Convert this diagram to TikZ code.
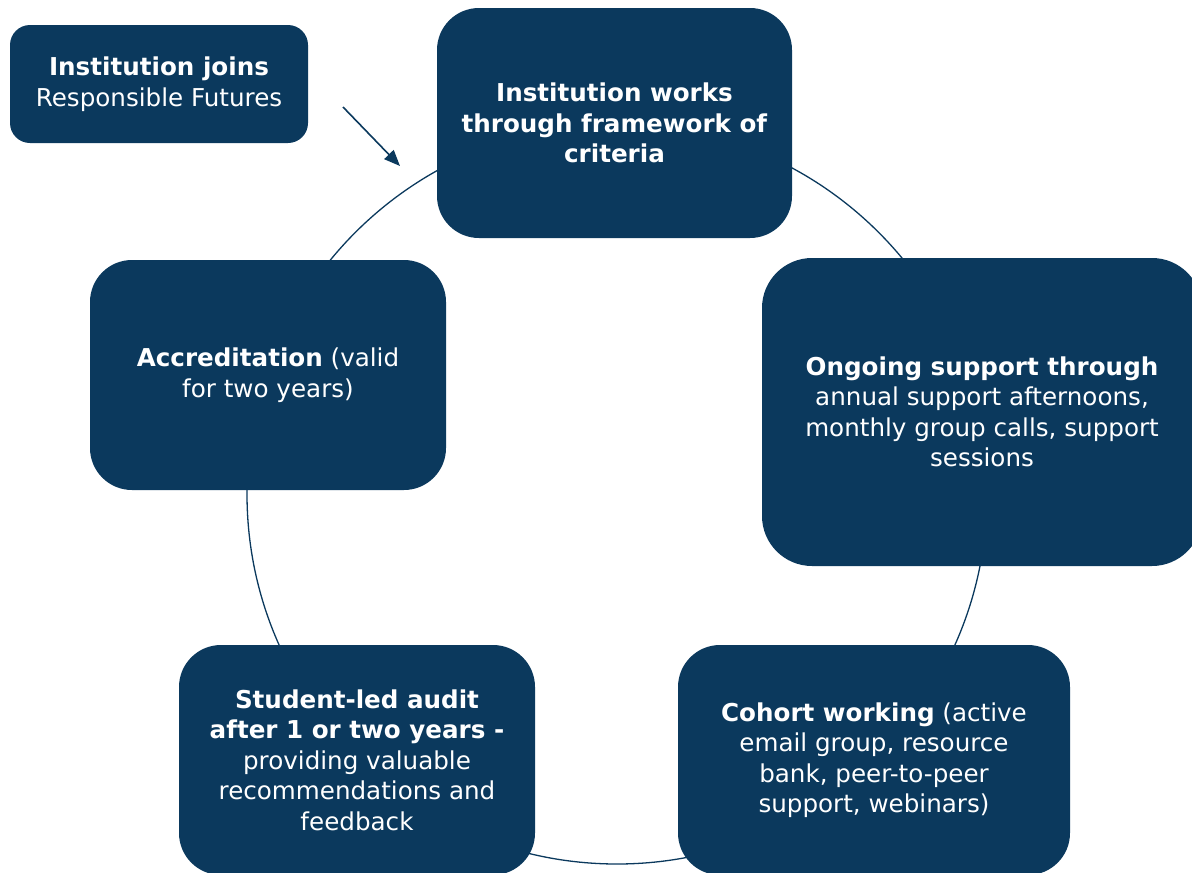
\documentclass[tikz,border=0pt]{standalone}
\usepackage{fontspec}
\setmainfont{DejaVu Sans}
\usetikzlibrary{arrows.meta}
\definecolor{navy}{RGB}{11,57,93}
\begin{document}
\begin{tikzpicture}[x=1pt,y=-1pt,
  box/.style={fill=navy,draw=none,rounded corners=42pt,text=white,align=center,
    font=\fontsize{24.6}{30.5}\selectfont,inner sep=0pt},
  ring/.style={draw=navy,line width=1.3pt}]
\useasboundingbox (0,0) rectangle (1192,873);
\clip (0,0) rectangle (1192,873);
\coordinate (c) at (617,494);
\draw[ring] (c) circle[radius=370];
\node[box,rounded corners=20pt,minimum width=298pt,minimum height=118pt] (join) at (159,84)
  {\textbf{Institution joins}\\Responsible Futures};
\node[box,minimum width=355pt,minimum height=230pt] (works) at (614.5,123)
  {\textbf{Institution works}\\\textbf{through framework of}\\\textbf{criteria}};
\node[box,rounded corners=50pt,minimum width=440pt,minimum height=308pt] (ongoing) at (982,412)
  {\textbf{Ongoing support through}\\annual support afternoons,\\monthly group calls, support\\sessions};
\node[box,minimum width=392pt,minimum height=230pt] (cohort) at (874,760)
  {\textbf{Cohort working} (active\\email group, resource\\bank, peer-to-peer\\support, webinars)};
\node[box,minimum width=356pt,minimum height=230pt] (audit) at (357,760)
  {\textbf{Student-led audit}\\\textbf{after 1 or two years -}\\providing valuable\\recommendations and\\feedback};
\node[box,minimum width=356pt,minimum height=230pt] (accr) at (268,375)
  {\textbf{Accreditation} (valid\\for two years)};
\coordinate (a1) at (343,107);
\coordinate (a2) at (400,166);
\draw[navy,line width=1.6pt,-{Triangle[length=16pt,width=13pt]}] (a1) -- (a2);
\end{tikzpicture}
\end{document}
